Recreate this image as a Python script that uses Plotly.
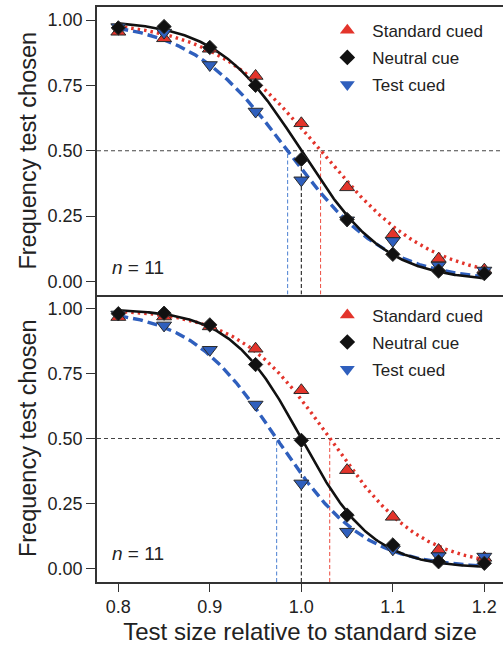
import numpy as np
import plotly.graph_objects as go
from plotly.subplots import make_subplots

# Test sizes (relative to the standard)
sizes = [0.8, 0.85, 0.9, 0.95, 1.0, 1.05, 1.1, 1.15, 1.2]

# Upper panel: proportion of trials on which the test was chosen
top_standard = [0.955, 0.93, 0.89, 0.786, 0.605, 0.36, 0.18, 0.087, 0.045]
top_neutral = [0.97, 0.975, 0.895, 0.75, 0.467, 0.237, 0.104, 0.04, 0.03]
top_test = [0.973, 0.952, 0.828, 0.65, 0.387, 0.234, 0.155, 0.061, 0.042]

# Lower panel
bot_standard = [0.968, 0.97, 0.932, 0.846, 0.686, 0.378, 0.198, 0.07, 0.04]
bot_neutral = [0.981, 0.983, 0.938, 0.785, 0.493, 0.205, 0.09, 0.025, 0.019]
bot_test = [0.978, 0.936, 0.842, 0.631, 0.327, 0.141, 0.073, 0.047, 0.045]

# Logistic fits: point of subjective equality and slope per condition
top_pse = {"standard": 1.021, "neutral": 1.0, "test": 0.985}
top_slope = {"standard": 0.060, "neutral": 0.046, "test": 0.054}
bot_pse = {"standard": 1.031, "neutral": 1.0, "test": 0.973}
bot_slope = {"standard": 0.050, "neutral": 0.039, "test": 0.048}

labels = {"standard": "Standard cued", "neutral": "Neutral cue", "test": "Test cued"}
symbols = {"standard": "triangle-up", "neutral": "diamond", "test": "triangle-down"}
colors = {"standard": "#e3342b", "neutral": "#111111", "test": "#2f5fbd"}
pse_colors = {"standard": "#ee5a4f", "neutral": "#222222", "test": "#5b8bd6"}
line_styles = {
    "standard": dict(dash="2.5px,4px", width=3.4),
    "neutral": dict(dash="solid", width=2.6),
    "test": dict(dash="10px,5px", width=3.4),
}
marker_sizes = {"standard": 13, "neutral": 11, "test": 13}

tick_vals = [0.8, 0.9, 1.0, 1.1, 1.2]
tick_text = ["0.8", "0.9", "1.0", "1.1", "1.2"]
y_ticks = [0.0, 0.25, 0.5, 0.75, 1.0]
y_tick_text = ["0.00", "0.25", "0.50", "0.75", "1.00"]

FONT = "Liberation Sans, Arial, Helvetica, sans-serif"
AXIS_COLOR = "#333333"

x_range = [0.7767, 1.2204]
y_ranges = {1: [-0.0498, 1.0498], 2: [-0.053, 1.055]}


def logistic(x, pse, s):
    return 1.0 / (1.0 + np.exp((x - pse) / s))


fig = make_subplots(rows=2, cols=1, shared_xaxes=False, vertical_spacing=0)

panels = [
    (1, "legend", {"standard": top_standard, "neutral": top_neutral, "test": top_test}, top_pse, top_slope),
    (2, "legend2", {"standard": bot_standard, "neutral": bot_neutral, "test": bot_test}, bot_pse, bot_slope),
]

x_fit = np.linspace(min(sizes), max(sizes), 300)

for row, legend_name, data, pse, slope in panels:
    xref = "x" if row == 1 else "x2"
    yref = "y" if row == 1 else "y2"
    y_lo = y_ranges[row][0]

    # Criterion line at 0.5
    fig.add_shape(type="line", xref=f"{xref} domain", yref=yref, x0=0, x1=1, y0=0.5, y1=0.5,
                  line=dict(color="#444444", width=1, dash="4px,3px"), layer="below")
    # PSE markers dropping to the axis
    for key in ["test", "neutral", "standard"]:
        fig.add_shape(type="line", xref=xref, yref=yref, x0=pse[key], x1=pse[key], y0=y_lo, y1=0.5,
                      line=dict(color=pse_colors[key], width=1.1, dash="4px,2.5px"), layer="below")

    # Fitted psychometric curves
    for key in ["standard", "test", "neutral"]:
        fig.add_trace(go.Scatter(x=x_fit, y=logistic(x_fit, pse[key], slope[key]), mode="lines",
                                 line=dict(color=colors[key], **line_styles[key]),
                                 showlegend=False, hoverinfo="skip"), row=row, col=1)

    # Observed proportions
    for key in ["standard", "test", "neutral"]:
        fig.add_trace(go.Scatter(x=sizes, y=data[key], mode="markers",
                                 marker=dict(symbol=symbols[key], size=marker_sizes[key], color=colors[key],
                                             line=dict(color="#2a2a2a", width=1)),
                                 showlegend=False), row=row, col=1)

    # Legend entries
    for key in ["standard", "neutral", "test"]:
        fig.add_trace(go.Scatter(x=[None], y=[None], mode="markers", name=labels[key],
                                 legendgroup=f"{legend_name}-{key}", legend=legend_name,
                                 marker=dict(symbol=symbols[key], size=13 if key != "neutral" else 12,
                                             color=colors[key], line=dict(width=0))), row=row, col=1)

    fig.add_annotation(xref=f"{xref} domain", yref=yref, x=0.033, y=0.055, xanchor="left", yanchor="middle",
                       text="<i>n</i> = 11", showarrow=False, font=dict(family=FONT, size=19, color="#222222"))

fig.update_xaxes(showline=True, linecolor=AXIS_COLOR, linewidth=1.6,
                 showgrid=False, zeroline=False, range=x_range)
# Upper panel frames the top edge and the shared separator; lower panel only its bottom edge
fig.update_xaxes(row=1, col=1, mirror=True, showticklabels=False, ticks="")
fig.update_xaxes(row=2, col=1, mirror=False, ticks="outside", ticklen=8, tickwidth=1.3, tickcolor=AXIS_COLOR,
                 tickvals=tick_vals, ticktext=tick_text,
                 tickfont=dict(family=FONT, size=18, color="#222222"),
                 title=dict(text="Test size relative to standard size", standoff=12,
                            font=dict(family=FONT, size=24, color="#222222")))

for row in (1, 2):
    fig.update_yaxes(row=row, col=1, showline=True, linecolor=AXIS_COLOR, linewidth=1.6, mirror=False,
                     showgrid=False, zeroline=False, range=y_ranges[row],
                     ticks="outside", ticklen=9, tickwidth=1.3, tickcolor=AXIS_COLOR,
                     tickvals=y_ticks, ticktext=y_tick_text,
                     tickfont=dict(family=FONT, size=18, color="#222222"),
                     title=dict(text="Frequency test chosen", standoff=4,
                                font=dict(family=FONT, size=23.5, color="#222222")))

legend_common = dict(xanchor="left", yanchor="top", bgcolor="rgba(0,0,0,0)", borderwidth=0,
                     traceorder="grouped", tracegroupgap=2, itemwidth=40,
                     font=dict(family=FONT, size=17, color="#222222"))

fig.update_layout(
    width=503, height=645,
    margin=dict(l=97, r=0, t=7, b=63),
    paper_bgcolor="white", plot_bgcolor="white",
    legend=dict(x=0.555, y=0.99, **legend_common),
    legend2=dict(x=0.555, y=0.495, **legend_common),
)

fig.write_html("out.html")
